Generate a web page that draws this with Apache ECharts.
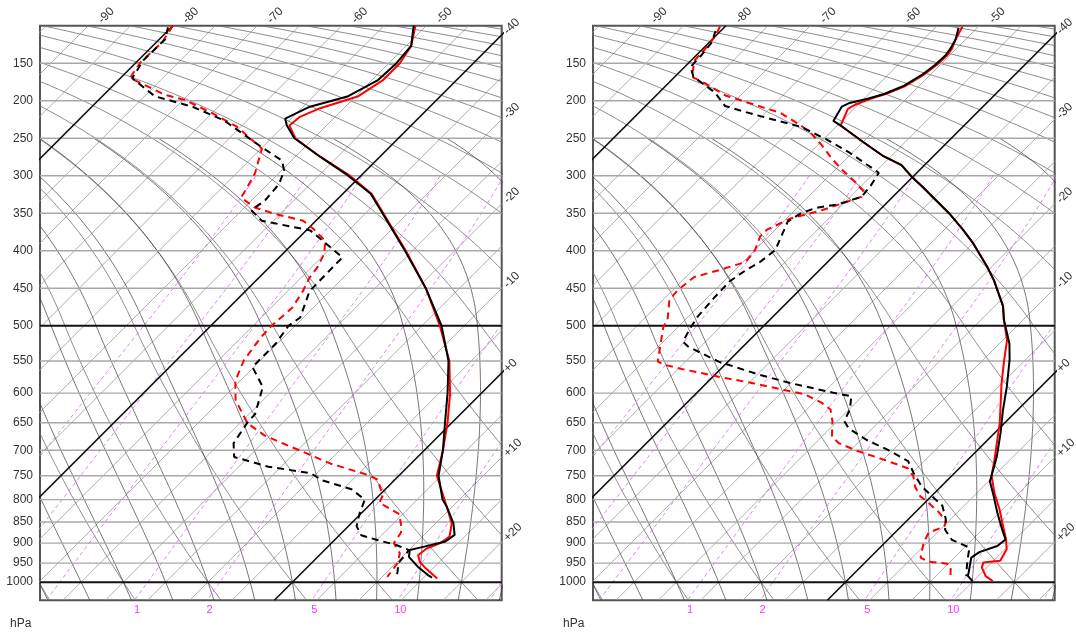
<!DOCTYPE html>
<html>
<head>
<meta charset="utf-8">
<title>Skew-T soundings</title>
<script src="https://cdn.jsdelivr.net/npm/echarts@6/dist/echarts.min.js"></script>
<style>
  html, body { margin: 0; padding: 0; background: #ffffff; }
  #chart { width: 1076px; height: 634px; }
</style>
</head>
<body>
<div id="chart"></div>
<script>
// ---------------- sounding data (pressure hPa / temperature °C) ----------------
// left diagram
const leftTempBlackP = [100,127,150,173,194,200,208,224,233,250,275,300,324,350,400,450,500,550,600,650,700,750,800,815,853,880,896,909,917,921,934,959,981,988];
const leftTempBlackT = [-51.5,-49.4,-49.1,-49.3,-50.9,-52.3,-54.2,-55.7,-54.7,-52.3,-47.0,-41.5,-36.7,-33.0,-25.9,-19.0,-12.7,-7.7,-4.0,-0.8,2.2,4.7,8.0,9.3,12.1,13.6,13.3,11.3,10.1,10.1,10.8,13.0,15.2,16.0];
const leftTempRedP = [100,127,150,173,194,210,222,233,250,275,300,324,350,400,450,500,550,600,650,700,750,801,853,884,900,913,930,947,964,990];
const leftTempRedT = [-51.3,-49.4,-48.7,-48.7,-49.7,-52.8,-54.2,-54.4,-52.2,-47.0,-41.3,-36.6,-32.9,-25.8,-19.0,-12.9,-7.6,-3.7,-0.5,2.2,4.5,8.3,11.9,13.2,12.9,11.9,11.7,12.7,14.2,16.7];
const leftDewBlackP = [102,118,146,170,194,208,226,262,280,293,311,333,346,360,373,409,422,454,489,500,525,550,559,590,635,650,687,713,718,732,745,759,778,800,830,853,860,881,893,905,917,950,972,980];
const leftDewBlackT = [-80.4,-79.3,-79.4,-78.6,-73.8,-68.1,-62.8,-55.1,-51.1,-49.7,-48.7,-48.4,-48.9,-46.4,-39.5,-32.5,-32.5,-32.4,-30.4,-30.8,-30.2,-30.2,-30.2,-26.6,-24.3,-24.2,-23.4,-21.7,-20.3,-16.5,-10.7,-8.6,-4.0,-1.2,-0.2,0.7,1.0,2.6,5.2,8.0,10.0,10.3,11.2,11.5];
const leftDewRedP = [100,122,149,166,170,192,199,217,235,264,275,297,320,329,342,351,360,371,387,404,422,436,454,476,500,516,549,580,611,651,673,687,703,726,749,759,772,790,807,832,862,875,900,925,950,986];
const leftDewRedT = [-80.0,-79.3,-79.5,-79.0,-78.8,-72.8,-69.8,-64.9,-60.4,-54.9,-54.2,-52.8,-51.9,-51.6,-48.9,-45.6,-41.5,-39.3,-36.5,-35.1,-34.3,-34.0,-33.2,-32.5,-32.8,-32.7,-32.0,-30.6,-28.3,-24.1,-20.6,-17.6,-14.2,-9.5,-3.6,-1.9,-1.0,0.4,0.9,4.6,6.4,7.0,7.4,9.3,10.2,10.6];

// right diagram
const rightTempBlackP = [103,118,131,139,152,166,180,191,197,203,208,227,235,255,274,286,301,314,332,350,372,390,421,439,474,492,525,548,590,630,668,711,736,762,793,828,867,891,907,922,936,957,984,997];
const rightTempBlackT = [-52.2,-51.2,-50.7,-50.5,-50.6,-51.0,-51.8,-53.2,-54.5,-56.2,-56.7,-56.0,-54.2,-50.0,-45.9,-42.7,-40.2,-37.8,-34.6,-31.4,-27.8,-25.0,-20.6,-18.2,-14.0,-12.3,-8.8,-6.9,-4.0,-1.6,0.7,3.0,4.1,5.2,7.4,9.7,12.3,13.9,13.7,12.3,12.0,12.8,13.8,14.9];
const rightTempRedP = [101,118,131,139,152,166,180,191,197,205,211,229,233,255,274,286,301,314,332,350,372,390,421,439,474,492,520,550,585,618,650,680,723,750,786,821,859,890,915,944,948,961,984,997];
const rightTempRedT = [-51.9,-51.2,-50.5,-50.3,-50.4,-50.8,-51.6,-53.0,-54.2,-55.3,-55.7,-54.8,-54.6,-50.0,-45.9,-42.7,-40.2,-37.8,-34.6,-31.4,-27.8,-25.0,-20.6,-18.2,-14.0,-12.3,-9.5,-7.4,-5.0,-2.7,-0.6,1.1,3.4,4.7,7.1,9.6,12.0,13.9,15.2,15.8,14.0,14.4,15.9,17.3];
const rightDewBlackP = [107,122,139,155,168,189,207,218,235,251,269,296,314,328,338,343,350,361,377,399,415,426,441,461,488,501,522,529,551,571,584,599,605,627,647,660,681,699,721,745,772,793,813,843,868,892,911,936,958,984];
const rightDewBlackT = [-80.6,-79.7,-79.4,-79.3,-77.8,-73.4,-70.6,-66.3,-59.1,-54.8,-50.4,-44.5,-43.9,-43.7,-45.5,-47.8,-48.9,-49.5,-48.7,-47.6,-48.0,-48.7,-49.3,-49.2,-48.9,-48.5,-47.7,-46.5,-41.1,-34.7,-30.0,-24.0,-21.3,-19.9,-19.2,-17.8,-14.3,-10.7,-6.9,-4.8,-2.3,0.1,2.4,4.4,5.6,7.6,10.6,11.6,12.5,13.6];
const rightDewRedP = [101,114,131,146,168,177,193,202,216,233,244,260,278,292,310,321,328,337,346,357,372,381,399,415,426,435,453,466,492,501,529,551,556,563,574,584,596,602,616,627,647,675,687,701,718,735,751,772,793,804,828,848,860,875,899,936,946,952,965,988];
const rightDewRedT = [-80.6,-80.0,-79.7,-79.6,-78.0,-75.6,-71.8,-68.5,-63.3,-59.3,-57.1,-54.4,-51.6,-49.2,-45.9,-44.1,-43.7,-45.2,-46.8,-49.5,-51.0,-51.0,-50.0,-49.7,-51.9,-54.0,-54.4,-54.2,-52.1,-51.8,-49.8,-48.3,-47.0,-44.2,-39.3,-34.5,-29.5,-27.0,-24.0,-22.2,-20.6,-18.8,-17.2,-14.2,-10.0,-6.1,-4.5,-3.1,-1.3,0.1,2.8,4.7,5.1,4.0,4.6,6.0,7.4,10.1,10.9,11.9];

// ---------------- diagram furniture ----------------
const pressureTicks = [150,200,250,300,350,400,450,500,550,600,650,700,750,800,850,900,950,1000];
const boldIsobars = [500, 1000];
const isothermTopLabels = [-90,-80,-70,-60,-50];
const isothermRightLabels = [-40,-30,-20,-10,0,10,20];
const boldIsotherms = [-80,-40,0];
const mixingRatioLines = [0.1,0.2,0.4,1,2,5,10,20];
const mixingRatioLabels = [1,2,5,10];
const unitLabel = 'hPa';

// ---------------- diagram coordinates ----------------
// vertical: linear in p above 500 hPa, logarithmic below (continuous slope at 500)
const P_TOP = 100, P_BOT = 1050;
const LOG_SCALE = 493.3;
function yOf(p) { return p >= 500 ? LOG_SCALE * Math.log(p / 500) : p - 500; }
function pOf(u) { return u >= 0 ? 500 * Math.exp(u / LOG_SCALE) : u + 500; }
// horizontal: temperature skewed by 45 degrees
const SKEW = 0.088757;
const Y_REF = yOf(1000);
function xOf(T, p) { return T + SKEW * (Y_REF - yOf(p)); }
const Y_MIN = yOf(P_TOP), Y_MAX = yOf(P_BOT);
const X_MIN = -29.87, X_MAX = 24.77;

// thermodynamics
function esat(Tc) { return 6.112 * Math.exp(17.67 * Tc / (Tc + 243.5)); }
function dewFromMix(w, p) {
  const e = w * p / (622 + w);
  const l = Math.log(e / 6.112);
  return 243.5 * l / (17.67 - l);
}
function moistLapse(p, Tc) {
  const T = Tc + 273.15, es = esat(Tc);
  const rs = 0.622 * es / (p - es);
  const Rd = 287.04, Cp = 1005.7, L = 2.501e6;
  return (Rd * T + L * rs) / (Cp + L * L * rs * 0.622 / (Rd * T * T)) / p;
}
function moistAdiabat(thetaW, pEnd) {
  const up = [[1000, thetaW]];
  let p = 1000, T = thetaW;
  while (p > pEnd) {
    const h = -5;
    const k1 = moistLapse(p, T);
    const k2 = moistLapse(p + h / 2, T + k1 * h / 2);
    T += k2 * h; p += h;
    up.push([p, T]);
  }
  const down = [];
  p = 1000; T = thetaW;
  while (p < P_BOT) {
    const h = 5;
    const k1 = moistLapse(p, T);
    const k2 = moistLapse(p + h / 2, T + k1 * h / 2);
    T += k2 * h; p += h;
    down.unshift([p, T]);
  }
  return down.concat(up);
}

function range(a, b, s) { const r = []; for (let v = a; v <= b + 1e-9; v += s) r.push(+v.toFixed(3)); return r; }
function toXY(ps, Ts) { return ps.map((p, i) => [xOf(Ts[i], p), yOf(p)]); }

const GRID_TOP = 25.7, GRID_H = 574.5, GRID_W = 461.7;
const PANEL_LEFT = [40, 593];
const FONT = 'Liberation Sans, Arial, Helvetica, sans-serif';

function bg(g, data, style, z) {
  return {
    type: 'line', xAxisIndex: 2 * g, yAxisIndex: 2 * g, data: data,
    symbol: 'none', silent: true, animation: false, clip: true, z: z || 1,
    lineStyle: style, emphasis: { disabled: true }
  };
}

function backgroundSeries(g) {
  const s = [];
  const pAll = range(P_TOP, P_BOT, 5);
  // isotherms every 5 °C
  range(-95, 25, 5).forEach(T => {
    if (boldIsotherms.includes(T)) return;
    s.push(bg(g, [[xOf(T, P_BOT), Y_MAX], [xOf(T, P_TOP), Y_MIN]], { color: '#9a9a9a', width: 0.8 }));
  });
  // dry adiabats every 10 K
  range(-40, 200, 10).forEach(th => {
    const d = pAll.map(p => [xOf((th + 273.15) * Math.pow(p / 1000, 0.2857) - 273.15, p), yOf(p)]);
    s.push(bg(g, d, { color: '#707070', width: 0.8 }));
  });
  // saturated adiabats every 5 °C
  range(-30, 35, 5).forEach(tw => {
    const d = moistAdiabat(tw, 250).map(([p, T]) => [xOf(T, p), yOf(p)]);
    s.push(bg(g, d, { color: '#3a3a3a', width: 0.7 }));
  });
  // saturation mixing ratio lines
  mixingRatioLines.forEach(w => {
    const d = range(300, P_BOT, 10).map(p => [xOf(dewFromMix(w, p), p), yOf(p)]);
    s.push(bg(g, d, { color: '#dd77ee', width: 0.9, type: [4, 3] }, 2));
  });
  // isobars
  pressureTicks.forEach(p => {
    if (boldIsobars.includes(p)) return;
    s.push(bg(g, [[X_MIN, yOf(p)], [X_MAX, yOf(p)]], { color: '#a8a8a8', width: 1.4 }, 2));
  });
  boldIsobars.forEach(p => {
    s.push(bg(g, [[X_MIN, yOf(p)], [X_MAX, yOf(p)]], { color: '#111', width: 2 }, 3));
  });
  boldIsotherms.forEach(T => {
    s.push(bg(g, [[xOf(T, P_BOT), Y_MAX], [xOf(T, P_TOP), Y_MIN]], { color: '#111', width: 1.6 }, 3));
  });
  return s;
}

function profile(g, name, ps, Ts, color, dashed) {
  return {
    type: 'line', name: name, xAxisIndex: 2 * g, yAxisIndex: 2 * g,
    data: toXY(ps, Ts), symbol: 'none', animation: false, z: 6,
    lineStyle: { color: color, width: 2, type: dashed ? [7, 5] : 'solid' }
  };
}

// label positions
const topLabelValues = isothermTopLabels.map(T => xOf(T, P_TOP) + 1.4);
const rightLabelValues = isothermRightLabels.map(T => Y_REF - (X_MAX - T) / SKEW - 3);
const mixLabelValues = mixingRatioLabels.map(w => xOf(dewFromMix(w, P_BOT), P_BOT) + 0.3);

function nearestLabel(v, values, labels) {
  let best = 0;
  values.forEach((x, i) => { if (Math.abs(x - v) < Math.abs(values[best] - v)) best = i; });
  return labels[best];
}

const grids = [], xAxes = [], yAxes = [], texts = [];
let series = [];
[0, 1].forEach(g => {
  grids.push({ left: PANEL_LEFT[g], top: GRID_TOP, width: GRID_W, height: GRID_H,
    show: true, borderColor: '#555', borderWidth: 2, backgroundColor: '#fff',
    containLabel: false, outerBoundsMode: 'none' });
  xAxes.push({
    gridIndex: g, type: 'value', position: 'bottom', min: X_MIN, max: X_MAX,
    axisLine: { show: false }, splitLine: { show: false },
    axisTick: { show: false, customValues: mixLabelValues },
    axisLabel: { customValues: mixLabelValues, color: '#ff33ff', fontSize: 11, fontFamily: FONT, margin: 4,
      formatter: v => String(nearestLabel(v, mixLabelValues, mixingRatioLabels)) }
  });
  xAxes.push({
    gridIndex: g, type: 'value', position: 'top', min: X_MIN, max: X_MAX,
    axisLine: { show: false }, splitLine: { show: false },
    axisTick: { show: false, customValues: topLabelValues },
    axisLabel: { customValues: topLabelValues, rotate: 45, color: '#333', fontSize: 12, fontFamily: FONT, margin: 4,
      formatter: v => String(nearestLabel(v, topLabelValues, isothermTopLabels)) }
  });
  const pVals = pressureTicks.map(yOf);
  yAxes.push({
    gridIndex: g, type: 'value', position: 'left', inverse: true, min: Y_MIN, max: Y_MAX,
    axisLine: { show: false }, splitLine: { show: false },
    axisTick: { show: false, customValues: pVals },
    axisLabel: { customValues: pVals, color: '#333', fontSize: 12, fontFamily: FONT, margin: 7,
      formatter: v => String(Math.round(pOf(v))) }
  });
  yAxes.push({
    gridIndex: g, type: 'value', position: 'right', inverse: true, min: Y_MIN, max: Y_MAX,
    axisLine: { show: false }, splitLine: { show: false },
    axisTick: { show: false, customValues: rightLabelValues },
    axisLabel: { customValues: rightLabelValues, rotate: 45, color: '#333', fontSize: 12, fontFamily: FONT, margin: 4,
      formatter: v => { const T = nearestLabel(v, rightLabelValues, isothermRightLabels); return T >= 0 ? '+' + T : String(T); } }
  });
  texts.push({ type: 'text', left: PANEL_LEFT[g] - 30, top: 618,
    style: { text: unitLabel, fill: '#333', font: '12px ' + FONT }, silent: true });
  series = series.concat(backgroundSeries(g));
});

series.push(profile(0, 'Temperature (red)', leftTempRedP, leftTempRedT, '#ff0000', false));
series.push(profile(0, 'Temperature (black)', leftTempBlackP, leftTempBlackT, '#000000', false));
series.push(profile(0, 'Dew point (red)', leftDewRedP, leftDewRedT, '#ff0000', true));
series.push(profile(0, 'Dew point (black)', leftDewBlackP, leftDewBlackT, '#000000', true));
series.push(profile(1, 'Temperature (red)', rightTempRedP, rightTempRedT, '#ff0000', false));
series.push(profile(1, 'Temperature (black)', rightTempBlackP, rightTempBlackT, '#000000', false));
series.push(profile(1, 'Dew point (red)', rightDewRedP, rightDewRedT, '#ff0000', true));
series.push(profile(1, 'Dew point (black)', rightDewBlackP, rightDewBlackT, '#000000', true));

const chart = echarts.init(document.getElementById('chart'), null, { renderer: 'canvas' });
chart.setOption({
  backgroundColor: '#ffffff',
  animation: false,
  grid: grids, xAxis: xAxes, yAxis: yAxes,
  graphic: texts,
  series: series
});
</script>
</body>
</html>
